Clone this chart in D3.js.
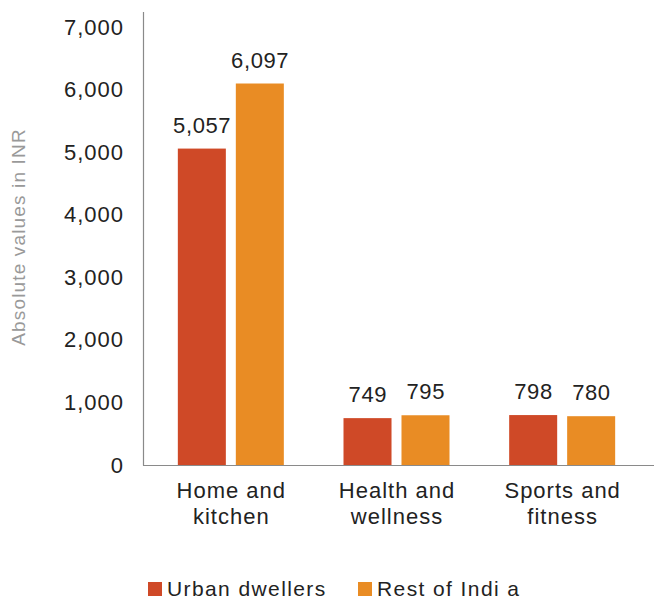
<!DOCTYPE html>
<html><head><meta charset="utf-8">
<script src="https://cdn.jsdelivr.net/npm/d3@7/dist/d3.min.js"></script>
<style>body{margin:0;background:#fff}svg{display:block}text{font-family:"Liberation Sans",Arial,sans-serif}</style>
</head><body>
<svg id="c" width="654" height="603"></svg>
<script>
const categories = [["Home and","kitchen"],["Health and","wellness"],["Sports and","fitness"]];
const seriesNames = ["Urban dwellers","Rest of Indi a"];
const urban = [5057, 749, 798];
const restOfIndia = [6097, 795, 780];
const yTicks = [0,1000,2000,3000,4000,5000,6000,7000];
const colors = ["#cf4927","#e98c24"];

const svg = d3.select("#c");
const catKeys = categories.map(d=>d.join(" "));
const x0 = d3.scaleBand().domain(catKeys).range([148,645]).paddingInner(0).paddingOuter(0);
const x1 = d3.scaleBand().domain(seriesNames).range([0,106]).paddingInner(0.172);
const y = d3.scaleLinear().domain([0,7000]).range([465,27]);
const fmt = d3.format(",");

// y axis
const yAx = svg.append("g").attr("transform","translate(143,0)")
  .call(d3.axisLeft(y).tickValues(yTicks).tickSize(0).tickPadding(19).tickFormat(fmt));
yAx.select(".domain").remove();
yAx.selectAll("text").attr("font-size",22).attr("fill","#222").attr("letter-spacing",1)
  .style("font-family","Liberation Sans, Arial, sans-serif");
svg.append("line").attr("x1",143.5).attr("x2",143.5).attr("y1",12).attr("y2",465.5).attr("stroke","#8a8a8a").attr("stroke-width",1.2);

// bars
const vals = [urban, restOfIndia];
const groups = svg.append("g").selectAll("g").data(catKeys).join("g")
  .attr("transform",d=>`translate(${x0(d)+(x0.bandwidth()-106)/2},0)`);
groups.each(function(cat,i){
  const g = d3.select(this);
  seriesNames.forEach((s,j)=>{
    const v = vals[j][i];
    g.append("rect").attr("x",x1(s)).attr("width",x1.bandwidth())
      .attr("y",y(v)).attr("height",y(0)-y(v)).attr("fill",colors[j]);
    g.append("text").attr("x",x1(s)+x1.bandwidth()/2+0.3).attr("y",y(v)-16)
      .attr("text-anchor","middle").attr("font-size",22).attr("letter-spacing",0.6).attr("fill","#222").text(fmt(v));
  });
});

// x axis line
svg.append("line").attr("x1",143).attr("x2",654).attr("y1",465.5).attr("y2",465.5).attr("stroke","#8a8a8a").attr("stroke-width",1.2);

// category labels
categories.forEach((lines,i)=>{
  const cx = x0(catKeys[i])+x0.bandwidth()/2+0.5;
  const t = svg.append("text").attr("x",cx).attr("y",497.5)
    .attr("text-anchor","middle").attr("font-size",22).attr("letter-spacing",1).attr("fill","#222");
  lines.forEach((l,k)=>t.append("tspan").attr("x",cx).attr("dy",k?26:0).text(l));
});

// y title
svg.append("text").attr("transform","translate(25,237) rotate(-90)").attr("text-anchor","middle")
  .attr("font-size",19).attr("letter-spacing",1.15).attr("fill","#999").text("Absolute values in INR");

// legend
const legX = [148,358];
seriesNames.forEach((s,j)=>{
  svg.append("rect").attr("x",legX[j]).attr("y",582).attr("width",14).attr("height",14).attr("fill",colors[j]);
  svg.append("text").attr("x",legX[j]+19).attr("y",596).attr("font-size",21).attr("letter-spacing",1.4).attr("fill","#222").text(s);
});
</script>
</body></html>
